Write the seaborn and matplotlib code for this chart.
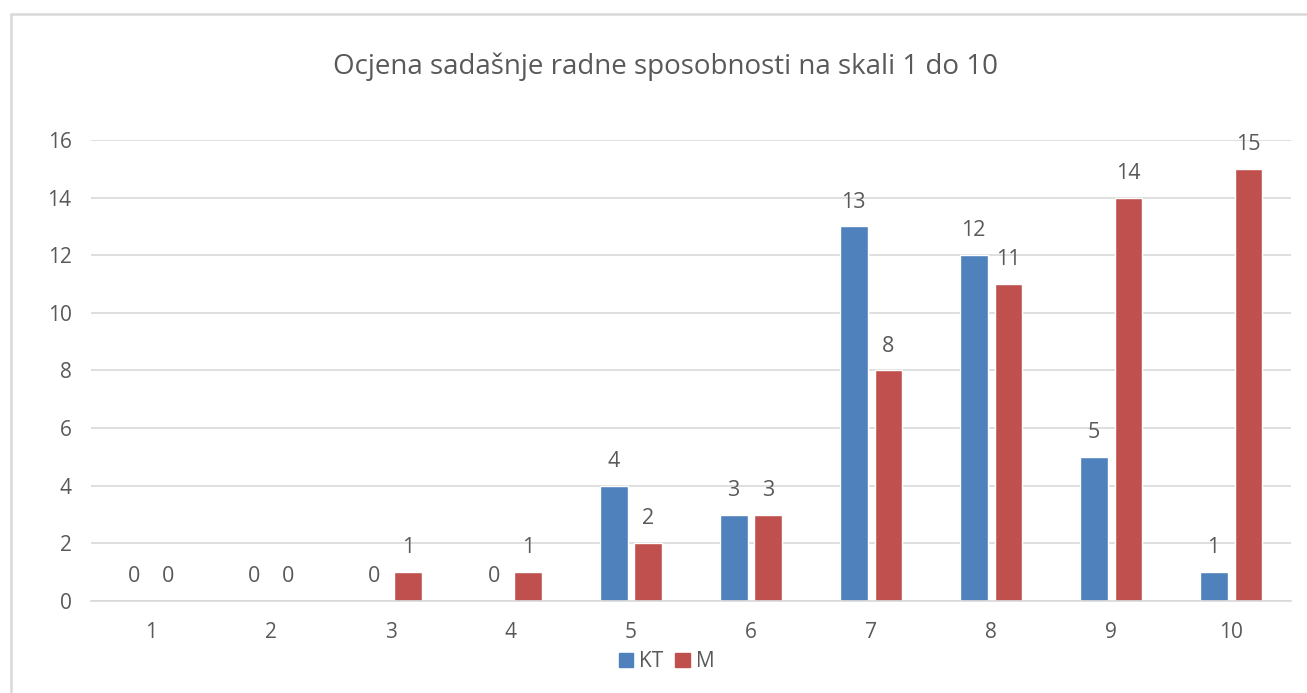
import matplotlib
matplotlib.use('Agg')
import matplotlib.pyplot as plt
import matplotlib.patches as mpatches
from matplotlib.lines import Line2D
import seaborn as sns
import pandas as pd

# podaci
ocjene = [1, 2, 3, 4, 5, 6, 7, 8, 9, 10]
kt = [0, 0, 0, 0, 4, 3, 13, 12, 5, 1]
m = [0, 0, 1, 1, 2, 3, 8, 11, 14, 15]
grupe = ['KT', 'M']
boje = ['#4F81BD', '#C0504D']
naslov = 'Ocjena sadašnje radne sposobnosti na skali 1 do 10'

df = pd.DataFrame({
    'ocjena': ocjene * 2,
    'broj': kt + m,
    'grupa': [grupe[0]] * len(ocjene) + [grupe[1]] * len(ocjene),
})

sns.set_theme(style='white')
plt.rcParams['font.family'] = ['Open Sans', 'DejaVu Sans']
siva = '#595959'

fig = plt.figure(figsize=(13.07, 6.93), dpi=100)
ax = fig.add_axes([0.0696, 0.1328, 0.9182, 0.6652])

sns.barplot(data=df, x='ocjena', y='broj', hue='grupa', palette=boje,
            width=0.58, gap=0.2, ax=ax, legend=True, saturation=1)

for c in ax.containers:
    ax.bar_label(c, fmt='%d', padding=10, fontsize=15.5, color=siva)

ax.set_ylim(0, 16)
ax.set_xlim(-0.5, 9.5)
ax.set_yticks(range(0, 17, 2))
ax.yaxis.grid(True, color='#D9D9D9', linewidth=1.2)
ax.set_axisbelow(True)
for s in ['top', 'right', 'left']:
    ax.spines[s].set_visible(False)
ax.spines['bottom'].set_color('#D9D9D9')
ax.spines['bottom'].set_linewidth(1.2)
ax.tick_params(axis='both', length=0, labelsize=15, labelcolor=siva)
ax.tick_params(axis='y', pad=14)
ax.tick_params(axis='x', pad=15)
ax.set_xlabel('')
ax.set_ylabel('')

ax.get_legend().remove()
handles = [mpatches.Patch(color=b, label=g) for b, g in zip(boje, grupe)]
fig.legend(handles=handles, loc='center', bbox_to_anchor=(0.51, 0.045), ncol=2,
           frameon=False, fontsize=15, handlelength=0.7, handleheight=0.7,
           handletextpad=0.3, columnspacing=0.55, labelcolor=siva)

fig.text(0.509, 0.903, naslov, ha='center', va='center', fontsize=20, color=siva)

# okvir grafikona (samo gornji i lijevi rub su vidljivi)
x0, y0 = 10.5 / 1307, 1 - 13.5 / 693
fig.lines.append(Line2D([x0, 1.0], [y0, y0], transform=fig.transFigure,
                        color='#D9D9D9', linewidth=1.8))
fig.lines.append(Line2D([x0, x0], [0.0, y0], transform=fig.transFigure,
                        color='#D9D9D9', linewidth=1.8))

plt.savefig('out.png', dpi=100)
plt.close()
